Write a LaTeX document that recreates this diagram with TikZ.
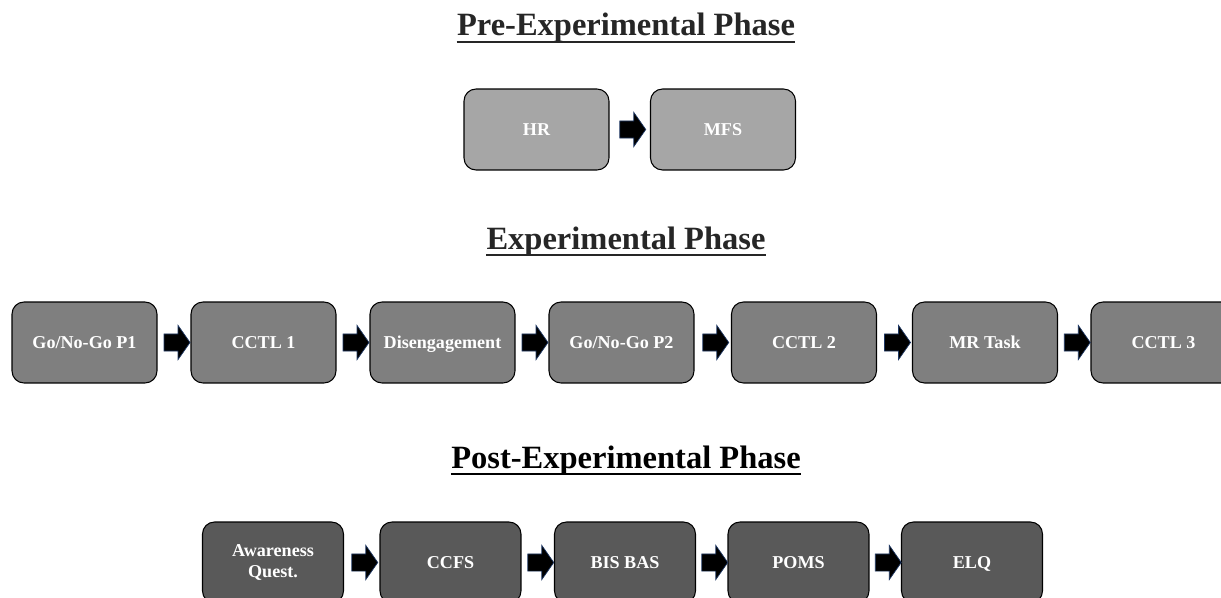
\documentclass[tikz,border=0pt]{standalone}
\usepackage{fontspec}
\setmainfont{Liberation Serif}
\usepackage{xcolor}
\usepackage{tikz}
\usetikzlibrary{shapes.arrows,calc}
\definecolor{PreGray}{RGB}{166,166,166}
\definecolor{ExpGray}{RGB}{127,127,127}
\definecolor{PostGray}{RGB}{89,89,89}
\definecolor{TitleDark}{RGB}{38,38,38}
\definecolor{ArrowEdge}{RGB}{31,56,100}
\tikzset{
    phasebox/.style={draw=black, line width=0.6pt, rounded corners=0.24cm, minimum width=2.9cm, minimum height=1.62cm, align=center, text=white, text height=0.66em, text depth=0pt, font=\fontsize{10.3}{12}\selectfont\bfseries},
    prebox/.style={phasebox, fill=PreGray},
    expbox/.style={phasebox, fill=ExpGray},
    postbox/.style={phasebox, fill=PostGray, minimum width=2.82cm},
    blockarr/.style={single arrow, fill=black, draw=ArrowEdge, line width=0.4pt, inner xsep=0pt, inner ysep=0.165cm, minimum height=0.52cm, single arrow head extend=0.17cm, single arrow tip angle=110},
    phasetitle/.style={anchor=base, inner sep=0pt, font=\fontsize{18.5}{22}\selectfont\bfseries},
    titlerule/.style={line width=1.7pt},
}

\begin{document}
\begin{tikzpicture}[x=0.02cm, y=-0.02cm]
\useasboundingbox (0,0) rectangle (1221,598);

% pre-experimental
\node[phasetitle, text=TitleDark] (pretitle) at (626,36) {Pre-Experimental Phase};
\node[prebox] (hr) at (536.5,129.5) {HR};
\node[prebox] (mfs) at (723,129.5) {MFS};
\path (hr) -- node[blockarr] {} (mfs);

% experimental
\node[phasetitle, text=TitleDark] (exptitle) at (626,249) {Experimental Phase};
\node[expbox] (gonogo1) at (84.5,342.5) {Go/No-Go P1};
\node[expbox] (cctl1) at (263.5,342.5) {CCTL 1};
\node[expbox] (diseng) at (442.5,342.5) {Disengagement};
\node[expbox] (gonogo2) at (621.5,342.5) {Go/No-Go P2};
\node[expbox] (cctl2) at (804,342.5) {CCTL 2};
\node[expbox] (mrtask) at (985,342.5) {MR Task};
\node[expbox] (cctl3) at (1163.5,342.5) {CCTL 3};
\foreach \a/\b in {gonogo1/cctl1, cctl1/diseng, diseng/gonogo2, gonogo2/cctl2, cctl2/mrtask, mrtask/cctl3}
    \path (\a) -- node[blockarr] {} (\b);

% post-experimental
\node[phasetitle, text=black] (posttitle) at (626,468) {Post-Experimental Phase};
\node[postbox, text height={}, text depth={}] (aware) at (273,562.5) {Awareness\\Quest.};
\node[postbox] (ccfs) at (450.5,562.5) {CCFS};
\node[postbox] (bisbas) at (625,562.5) {BIS BAS};
\node[postbox] (poms) at (798.5,562.5) {POMS};
\node[postbox] (elq) at (972,562.5) {ELQ};
\foreach \a/\b in {aware/ccfs, ccfs/bisbas, bisbas/poms, poms/elq}
    \path (\a) -- node[blockarr] {} (\b);

% title underlines
\foreach \t/\c in {pretitle/TitleDark, exptitle/TitleDark, posttitle/black}
    \draw[titlerule, \c] ($(\t.base west)+(0,6)$) -- ($(\t.base east)+(0,6)$);
\end{tikzpicture}
\end{document}
